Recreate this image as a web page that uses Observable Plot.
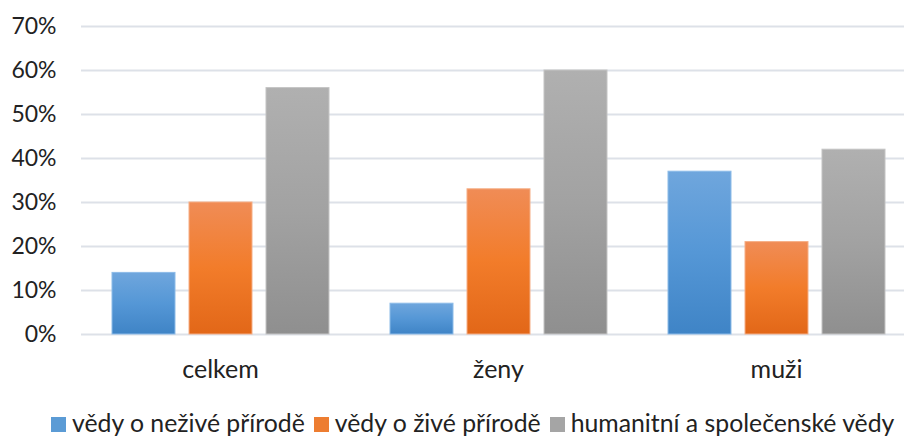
<!DOCTYPE html>
<html>
<head>
<meta charset="utf-8">
<script src="https://cdn.jsdelivr.net/npm/d3@7"></script>
<script src="https://cdn.jsdelivr.net/npm/@observablehq/plot@0.6"></script>
<style>
  html, body { margin: 0; padding: 0; background: #fff; }
  #wrap { position: relative; width: 904px; height: 436px; overflow: hidden; font-family: Lato, "Open Sans", sans-serif; }
  #legend { position: absolute; left: 51px; top: 409px; display: flex; align-items: center; white-space: nowrap; font-size: 24.8px; color: #222; line-height: 28px; }
  #legend .item { display: flex; align-items: center; margin-right: 9px; }
  #legend .sw { width: 15px; height: 15px; margin-right: 6px; margin-top: 3px; }
</style>
</head>
<body>
<svg width="0" height="0" style="position:absolute">
  <defs>
    <linearGradient id="gBlue" x1="0" y1="0" x2="0" y2="1">
      <stop offset="0" stop-color="#6fa6dd"/>
      <stop offset="0.5" stop-color="#5597d6"/>
      <stop offset="1" stop-color="#3f84c6"/>
    </linearGradient>
    <linearGradient id="gOrange" x1="0" y1="0" x2="0" y2="1">
      <stop offset="0" stop-color="#f08c56"/>
      <stop offset="0.5" stop-color="#f27c2a"/>
      <stop offset="1" stop-color="#e26718"/>
    </linearGradient>
    <linearGradient id="gGray" x1="0" y1="0" x2="0" y2="1">
      <stop offset="0" stop-color="#b0b0b0"/>
      <stop offset="0.5" stop-color="#a2a2a2"/>
      <stop offset="1" stop-color="#8f8f8f"/>
    </linearGradient>
  </defs>
</svg>
<div id="wrap">
  <div id="chart"></div>
  <div id="legend"></div>
</div>
<script>
const groups = ["celkem", "ženy", "muži"];
const series = ["vědy o neživé přírodě", "vědy o živé přírodě", "humanitní a společenské vědy"];
const neziva = [0.14, 0.07, 0.37];
const ziva = [0.30, 0.33, 0.21];
const humanitni = [0.56, 0.60, 0.42];
const yTicks = [0, 0.1, 0.2, 0.3, 0.4, 0.5, 0.6, 0.7];

const fills = ["url(#gBlue)", "url(#gOrange)", "url(#gGray)"];
const strokes = ["#8cbbe8", "#f5ae85", "#c4c4c4"];
const swatch = ["#5b9bd5", "#ed7d31", "#a5a5a5"];

const seriesValues = [neziva, ziva, humanitni];
const data = [];
groups.forEach((g, i) => series.forEach((s, j) => data.push({group: g, series: s, value: seriesValues[j][i]})));

const plot = Plot.plot({
  width: 904,
  height: 395,
  marginLeft: 81,
  marginRight: 0,
  marginTop: 26,
  marginBottom: 61,
  style: {fontFamily: "Lato, 'Open Sans', sans-serif", color: "#222", background: "transparent"},
  fx: {domain: groups, range: [81, 915], paddingInner: 0, paddingOuter: 0, label: null},
  x: {domain: series, paddingInner: 14 / 77, paddingOuter: 0.396, axis: null},
  y: {domain: [0, 0.7], label: null},
  color: {domain: series, range: fills},
  marks: [
    Plot.gridY(yTicks, {stroke: "#dde1e8", strokeOpacity: 1, strokeWidth: 2}),
    Plot.barY(data, {fx: "group", x: "series", y: "value", fill: "series", stroke: d => strokes[series.indexOf(d.series)], strokeWidth: 1}),
    Plot.axisY(yTicks, {tickSize: 0, tickPadding: 25, tickFormat: d3.format(".0%"), fontSize: 23, label: null}),
    Plot.axisFx({anchor: "bottom", tickSize: 0, tickPadding: 26, fontSize: 25, label: null})
  ]
});
document.getElementById("chart").appendChild(plot);

const legend = document.getElementById("legend");
series.forEach((s, i) => {
  const item = document.createElement("div");
  item.className = "item";
  const sw = document.createElement("span");
  sw.className = "sw";
  sw.style.background = swatch[i];
  const t = document.createElement("span");
  t.textContent = s;
  item.appendChild(sw);
  item.appendChild(t);
  legend.appendChild(item);
});
</script>
</body>
</html>
